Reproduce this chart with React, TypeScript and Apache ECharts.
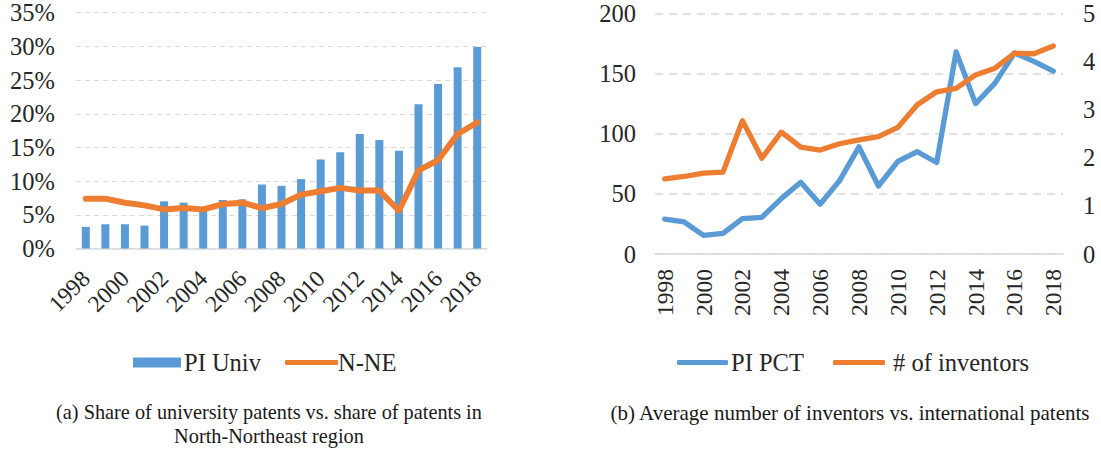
import React, { useEffect, useRef } from "react";
import * as echarts from "echarts";

const years = ["1998","1999","2000","2001","2002","2003","2004","2005","2006","2007","2008","2009","2010","2011","2012","2013","2014","2015","2016","2017","2018"];
const piUniv = [3.2, 3.6, 3.6, 3.4, 7.0, 6.8, 6.0, 7.2, 7.3, 9.5, 9.3, 10.3, 13.2, 14.3, 17.0, 16.1, 14.5, 21.4, 24.4, 26.9, 29.9];
const nne = [7.4, 7.4, 6.8, 6.4, 5.8, 6.0, 5.8, 6.6, 6.8, 6.0, 6.6, 8.0, 8.5, 9.0, 8.6, 8.6, 5.6, 11.6, 13.1, 17.0, 18.7];
const piPct = [29, 26.6, 15.5, 17.2, 29.4, 30.5, 46, 59.6, 41.3, 61, 89, 56.5, 77, 85, 76, 168, 125, 142, 167, 160, 152];
const inventors = [1.56, 1.61, 1.68, 1.7, 2.77, 1.99, 2.53, 2.22, 2.16, 2.29, 2.37, 2.44, 2.63, 3.1, 3.37, 3.44, 3.72, 3.86, 4.17, 4.16, 4.32];
const captionA1 = "(a) Share of university patents vs. share of patents in";
const captionA2 = "North-Northeast region";
const captionB = "(b) Average number of inventors vs. international patents";

const BLUE = "#5B9BD5";
const ORANGE = "#ED7D31";
const GRID = "#D9D9D9";
const TXT = "#262626";
const FONT = "Liberation Serif";

export default function App() {
  const ref = useRef<HTMLDivElement>(null);
  useEffect(() => {
    if (!ref.current) return;
    const chart = echarts.init(ref.current, null, { renderer: "svg" });
    const axisLabel = { color: TXT, fontFamily: FONT, fontSize: 24.5 };
    const legendText = { color: TXT, fontFamily: FONT, fontSize: 24.5 };
    const legendBase = { top: 345, itemHeight: 5, selectedMode: false };
    const option: any = {
      animation: false,
      textStyle: { fontFamily: FONT },
      grid: [
        { left: 76, top: 12.7, width: 411, height: 235.8, containLabel: false, outerBoundsMode: "none" },
        { left: 655, top: 13.3, width: 408, height: 240.7, containLabel: false, outerBoundsMode: "none" },
      ],
      xAxis: [
        {
          type: "category", gridIndex: 0, data: years, boundaryGap: true,
          axisLine: { show: true, lineStyle: { color: GRID, width: 1.5 } },
          axisTick: { show: false },
          axisLabel: { ...axisLabel, fontSize: 23.5, rotate: 45, interval: 1, margin: 26 },
        },
        {
          type: "category", gridIndex: 1, data: years, boundaryGap: true,
          axisLine: { show: true, lineStyle: { color: GRID, width: 1.5 } },
          axisTick: { show: false },
          axisLabel: { ...axisLabel, fontSize: 23.5, rotate: 90, interval: 1, margin: 15 },
        },
      ],
      yAxis: [
        {
          type: "value", gridIndex: 0, min: 0, max: 35, interval: 5,
          axisLine: { show: false }, axisTick: { show: false },
          axisLabel: { ...axisLabel, formatter: "{value}%", margin: 21 },
          splitLine: { lineStyle: { color: GRID, type: [5, 4], width: 1 } },
        },
        {
          type: "value", gridIndex: 1, min: 0, max: 200, interval: 50,
          axisLine: { show: false }, axisTick: { show: false },
          axisLabel: { ...axisLabel, margin: 19 },
          splitLine: { lineStyle: { color: GRID, type: [8, 6], width: 1.5 } },
        },
        {
          type: "value", gridIndex: 1, min: 0, max: 5, interval: 1, position: "right",
          axisLine: { show: false }, axisTick: { show: false },
          axisLabel: { ...axisLabel, margin: 20 },
          splitLine: { show: false },
        },
      ],
      legend: [
        {
          ...legendBase, left: 128, itemWidth: 48, itemHeight: 10,
          textStyle: { ...legendText, padding: [0, 0, 0, -2] },
          data: [{ name: "PI Univ", icon: "rect" }],
        },
        {
          ...legendBase, left: 280, itemWidth: 53,
          textStyle: { ...legendText, padding: [0, 0, 0, -5] },
          data: [{ name: "N-NE", icon: "roundRect" }],
        },
        {
          ...legendBase, left: 672, itemWidth: 51,
          textStyle: { ...legendText, padding: [0, 0, 0, -2] },
          data: [{ name: "PI PCT", icon: "roundRect" }],
        },
        {
          ...legendBase, left: 828, itemWidth: 52,
          textStyle: { ...legendText, padding: [0, 0, 0, 3] },
          data: [{ name: "# of inventors", icon: "roundRect" }],
        },
      ],
      series: [
        {
          name: "PI Univ", type: "bar", xAxisIndex: 0, yAxisIndex: 0, data: piUniv,
          barWidth: 8, itemStyle: { color: BLUE },
        },
        {
          name: "N-NE", type: "line", xAxisIndex: 0, yAxisIndex: 0, data: nne,
          symbol: "none", lineStyle: { color: ORANGE, width: 6, cap: "round", join: "round" },
          itemStyle: { color: ORANGE },
        },
        {
          name: "PI PCT", type: "line", xAxisIndex: 1, yAxisIndex: 1, data: piPct,
          symbol: "none", lineStyle: { color: BLUE, width: 5.3, cap: "round", join: "round" },
          itemStyle: { color: BLUE },
        },
        {
          name: "# of inventors", type: "line", xAxisIndex: 1, yAxisIndex: 2, data: inventors,
          symbol: "none", lineStyle: { color: ORANGE, width: 5.3, cap: "round", join: "round" },
          itemStyle: { color: ORANGE },
        },
      ],
      graphic: [
        { type: "text", x: 269, y: 412, style: { text: captionA1, fill: "#1a1a1a", fontFamily: FONT, fontSize: 20.3, textAlign: "center", textVerticalAlign: "middle" } },
        { type: "text", x: 269, y: 435.5, style: { text: captionA2, fill: "#1a1a1a", fontFamily: FONT, fontSize: 20.3, textAlign: "center", textVerticalAlign: "middle" } },
        { type: "text", x: 850, y: 413, style: { text: captionB, fill: "#1a1a1a", fontFamily: FONT, fontSize: 21, textAlign: "center", textVerticalAlign: "middle" } },
      ],
    };
    chart.setOption(option);
    return () => chart.dispose();
  }, []);
  return (
    <div
      ref={ref}
      style={{ position: "absolute", left: 0, top: 0, width: 1101, height: 454, background: "#fff" }}
    />
  );
}
